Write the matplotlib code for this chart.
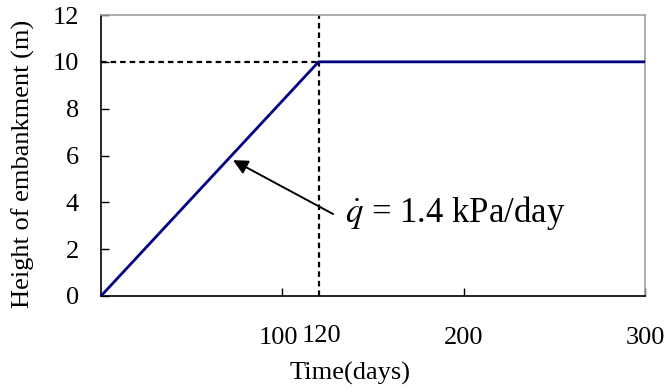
"""Embankment construction history: linear loading then constant height."""

import matplotlib.pyplot as plt
import matplotlib.transforms as mtransforms

plt.rcParams["font.family"] = ["Liberation Serif", "DejaVu Serif"]
plt.rcParams["mathtext.fontset"] = "stix"

# loading history
time_days = [0, 120, 300]
height_m = [0, 10, 10]

end_of_loading = 120
final_height = 10
x_ticks = [100, 200, 300]
y_ticks = [0, 2, 4, 6, 8, 10, 12]
rate_label = r"$\dot{q}$ = 1.4 kPa/day"


def main():
    fig = plt.figure(figsize=(6.68, 3.92), dpi=100)
    ax = fig.add_axes([101 / 668, 1 - 296 / 392, 544 / 668, 281 / 392])

    dash = (0, (2.5, 1.8))
    ax.plot([end_of_loading, end_of_loading], [0, 12], color="black",
            linestyle=dash, linewidth=1.6)
    ax.plot([0, end_of_loading], [final_height, final_height], color="black",
            linestyle=dash, linewidth=1.6)
    ax.plot(time_days, height_m, color="#000080", linewidth=2.0,
            solid_capstyle="butt", clip_on=False, zorder=3)

    ax.set_xlim(0, 300)
    ax.set_ylim(0, 12)
    ax.set_xticks(x_ticks)
    ax.set_yticks(y_ticks)
    ax.tick_params(axis="both", direction="in", length=6, width=1,
                   labelsize=19)
    ax.tick_params(axis="x", pad=22)
    ax.tick_params(axis="y", pad=16)

    # nudge "100" left so it does not run into the 120 label
    shift = mtransforms.ScaledTranslation(-3 / 72, 0, fig.dpi_scale_trans)
    first = ax.get_xticklabels()[0]
    first.set_transform(first.get_transform() + shift)

    for side in ("left", "bottom"):
        ax.spines[side].set_color("black")
        ax.spines[side].set_linewidth(1.2)
    for side in ("top", "right"):
        ax.spines[side].set_color("#a0a0a0")
        ax.spines[side].set_linewidth(1.2)

    # extra label for the end of loading, set a little higher than the others
    ax.text(end_of_loading + 1.5, -0.103, str(end_of_loading), fontsize=19,
            ha="center", va="top",
            transform=ax.get_xaxis_transform())

    ax.set_xlabel("Time(days)", fontsize=19)
    ax.xaxis.set_label_coords(0.458, -0.235)
    ax.set_ylabel("Height of embankment (m)", fontsize=19)
    ax.yaxis.set_label_coords(-0.122, 0.47)

    ax.annotate("", xy=(72.8, 5.8), xytext=(128, 3.5),
                arrowprops=dict(arrowstyle="-|>", color="black", lw=1.4,
                                mutation_scale=22, shrinkA=0, shrinkB=0))
    ax.text(134.5, 3.55, rate_label, fontsize=25, va="center", ha="left")

    fig.savefig("out.png", dpi=100)
    plt.close(fig)


if __name__ == "__main__":
    main()
